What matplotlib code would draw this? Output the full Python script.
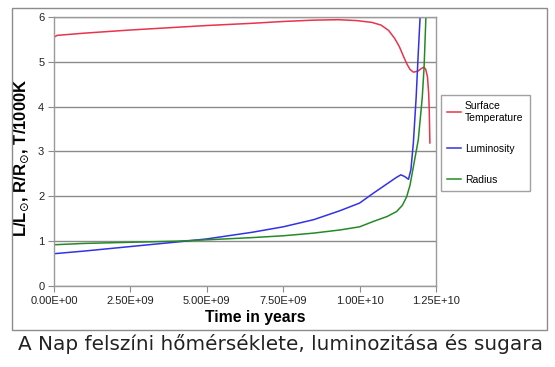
import matplotlib
matplotlib.use("Agg")
import matplotlib.pyplot as plt
from matplotlib.patches import Rectangle
import numpy as np

# time in units of 1e9 years
temp_t = [0, 0.1, 1.0, 2.5, 4.0, 5.0, 6.5, 7.5, 8.5, 9.3, 9.9, 10.4, 10.7, 10.95,
          11.15, 11.3, 11.45, 11.55, 11.65, 11.76, 11.9, 12.0, 12.09, 12.16, 12.22,
          12.26, 12.28, 12.3]
temp_v = [5.55, 5.59, 5.64, 5.71, 5.77, 5.81, 5.86, 5.90, 5.93, 5.94, 5.92, 5.88,
          5.82, 5.70, 5.52, 5.34, 5.10, 4.95, 4.83, 4.77, 4.79, 4.84, 4.88, 4.84,
          4.67, 4.30, 3.90, 3.19]

lum_t = [0, 1.0, 2.5, 4.0, 5.0, 6.5, 7.5, 8.5, 9.36, 10.0, 10.45, 10.9, 11.2, 11.35,
         11.48, 11.6, 11.68, 11.76, 11.85, 11.92, 11.98, 12.02]
lum_v = [0.72, 0.78, 0.88, 0.98, 1.05, 1.20, 1.32, 1.48, 1.68, 1.85, 2.07, 2.28,
         2.42, 2.48, 2.44, 2.38, 2.60, 3.20, 4.20, 5.20, 6.00, 6.50]

rad_t = [0, 1.0, 2.5, 4.0, 5.0, 6.5, 7.5, 8.5, 9.36, 10.0, 10.45, 10.9, 11.21, 11.4,
         11.54, 11.65, 11.76, 11.92, 12.05, 12.11, 12.17, 12.2]
rad_v = [0.92, 0.95, 0.975, 1.0, 1.03, 1.08, 1.12, 1.18, 1.25, 1.32, 1.44, 1.55,
         1.66, 1.80, 1.99, 2.25, 2.66, 3.26, 4.20, 4.88, 6.00, 6.40]

x_ticks = [0, 2.5e9, 5.0e9, 7.5e9, 1.0e10, 1.25e10]
x_tick_labels = ["0.00E+00", "2.50E+09", "5.00E+09", "7.50E+09", "1.00E+10", "1.25E+10"]
y_ticks = [0, 1, 2, 3, 4, 5, 6]

W, H = 555, 367
fig = plt.figure(figsize=(W / 100, H / 100), dpi=100)
fig.patch.set_facecolor("white")

# outer chart frame
fig.patches.append(Rectangle((12 / W, 1 - 330 / H), 535 / W, 322 / H,
                             transform=fig.transFigure, fill=False,
                             edgecolor="#8c8c8c", lw=1.0))

ax = fig.add_axes([54 / W, 1 - 286 / H, 382 / W, 269 / H])

ax.plot(np.array(temp_t) * 1e9, temp_v, color="#e8344c", lw=1.1, label="Surface\nTemperature")
ax.plot(np.array(lum_t) * 1e9, lum_v, color="#3232e6", lw=1.1, label="Luminosity")
ax.plot(np.array(rad_t) * 1e9, rad_v, color="#258a25", lw=1.1, label="Radius")

ax.set_xlim(0, 1.25e10)
ax.set_ylim(0, 6)
ax.set_xticks(x_ticks)
ax.set_xticklabels(x_tick_labels)
ax.set_yticks(y_ticks)
ax.grid(axis="y", color="#8a8a8a", lw=1.0)
ax.set_axisbelow(True)
for s in ax.spines.values():
    s.set_color("#9a9a9a")
    s.set_linewidth(1.0)
ax.tick_params(direction="out", length=4, color="#8a8a8a", labelsize=8,
               labelcolor="#222222", pad=3)
for lbl in ax.get_xticklabels() + ax.get_yticklabels():
    lbl.set_family("Liberation Sans")

ax.set_xlabel("Time in years", fontsize=11.3, fontweight="bold",
              family="Liberation Sans")
ax.xaxis.set_label_coords((255 - 54) / 382, -(310 - 286) / 269)
ax.set_ylabel(r"L/L$_{\odot}$, R/R$_{\odot}$, T/1000K", fontsize=12,
              fontweight="bold", family="Liberation Sans")
ax.yaxis.set_label_coords(-(54 - 31) / 382, (286 - 158) / 269)

leg = ax.legend(loc="upper left", bbox_to_anchor=(441 / W, 1 - 95 / H),
                bbox_transform=fig.transFigure, frameon=True, fancybox=False,
                borderaxespad=0, handlelength=1.3, handletextpad=0.4,
                labelspacing=2.0, borderpad=0.6,
                prop={"family": "Liberation Sans", "size": 7.5})
leg.get_frame().set_edgecolor("#8a8a8a")
leg.get_frame().set_linewidth(1.0)

fig.text(280 / W, 1 - 344 / H, "A Nap felszíni hőmérséklete, luminozitása és sugara",
         ha="center", va="center", fontsize=14.4, color="#222222", family="DejaVu Sans")

fig.savefig("out.png", dpi=100)
